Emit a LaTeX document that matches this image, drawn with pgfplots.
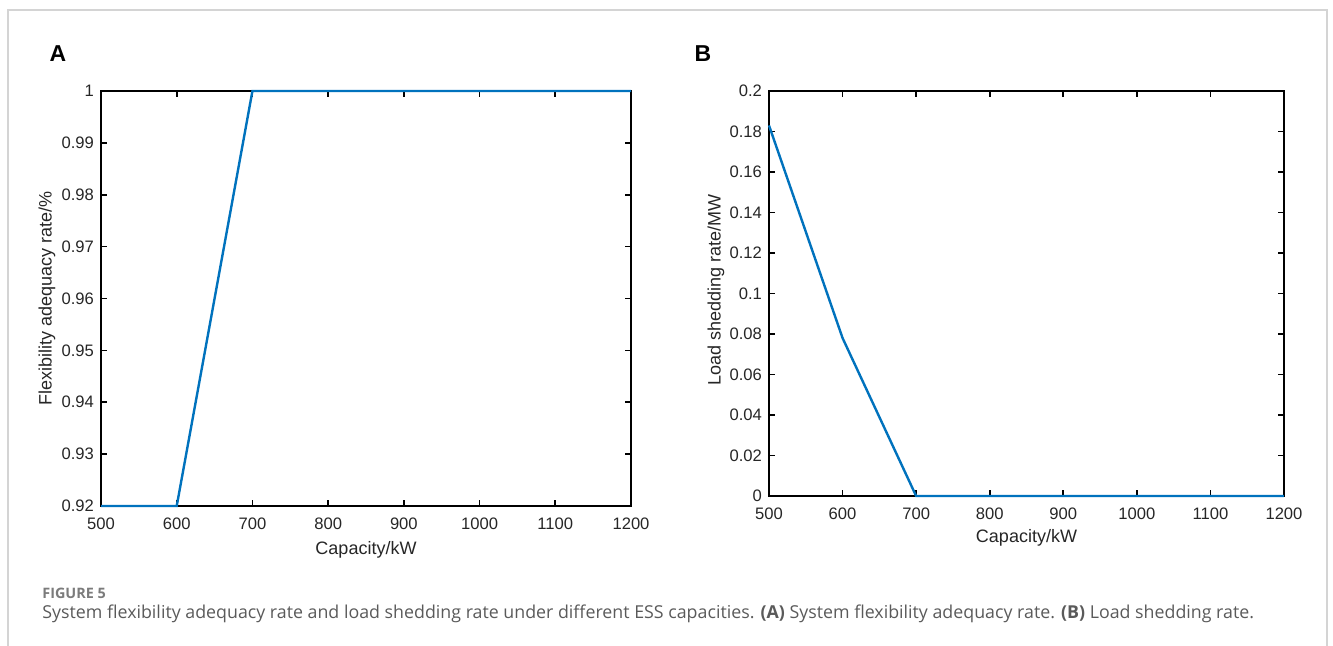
\documentclass[border=0pt]{standalone}
\usepackage{pgfplots}
\pgfplotsset{compat=1.18}
\usepackage{fontspec}
\setmainfont{Liberation Sans}
\newfontfamily\capfont{Open Sans}
\definecolor{mblue}{HTML}{0072BD}
\definecolor{capgray}{HTML}{5A5A5A}
\definecolor{framegray}{HTML}{D4D4D4}

\pgfplotstableread{
cap rate
500 0.92
600 0.92
700 1
800 1
900 1
1000 1
1100 1
1200 1
}\adequacy

\pgfplotstableread{
cap shed
500 0.183
600 0.078
700 0
800 0
900 0
1000 0
1100 0
1200 0
}\shedding

\pgfplotsset{
  matlab/.style={
    scale only axis,
    anchor=south west,
    xmin=500, xmax=1200,
    xtick={500,600,...,1200},
    axis line style={black, line width=1pt},
    tick style={black, line width=0.8pt},
    major tick length=3pt,
    tick align=inside,
    tick pos=both,
    tick label style={font=\fontsize{8.3}{10}\selectfont, text=black!85},
    xticklabel style={yshift=-2.5pt, /pgf/number format/1000 sep={}},
    label style={font=\fontsize{9}{11}\selectfont, text=black!85},
    /pgf/number format/assume math mode=true,
    yticklabel style={/pgf/number format/fixed, /pgf/number format/precision=2},
    scaled y ticks=false,
    clip=false,
  },
}

\begin{document}
\begin{tikzpicture}
\useasboundingbox (0,0) rectangle (666.5pt,-323pt);
\draw[framegray, line width=0.6pt] (4pt,-323pt) -- (4pt,-5pt) -- (663.5pt,-5pt) -- (663.5pt,-323pt);

\node[font=\bfseries\fontsize{11.5}{13}\selectfont, anchor=center] at (29pt,-27pt) {A};
\node[font=\bfseries\fontsize{11.5}{13}\selectfont, anchor=center] at (351.5pt,-27pt) {B};

\begin{axis}[matlab,
  at={(50.5pt,-253pt)}, width=265pt, height=207.5pt,
  ymin=0.92, ymax=1,
  ytick={0.92,0.93,...,1.001},
  xlabel={Capacity/kW},
  ylabel={Flexibility adequacy rate/\%},
  xlabel style={at={(axis description cs:0.5,-0.106)}, anchor=center},
  ylabel style={at={(axis description cs:-0.102,0.5)}, anchor=center},
]
\addplot[mblue, line width=1.2pt] table[x=cap, y=rate] {\adequacy};
\end{axis}

\begin{axis}[matlab,
  at={(384.5pt,-248pt)}, width=257.5pt, height=202.5pt,
  ymin=0, ymax=0.2,
  ytick={0,0.02,...,0.201},
  xlabel={Capacity/kW},
  ylabel={Load shedding rate/MW},
  xlabel style={at={(axis description cs:0.5,-0.104)}, anchor=center},
  ylabel style={at={(axis description cs:-0.103,0.509)}, anchor=center},
]
\addplot[mblue, line width=1.2pt] table[x=cap, y=shed] {\shedding};
\end{axis}

\node[anchor=base west, font=\capfont\fontsize{7.2}{8}\selectfont\bfseries, text=capgray!80, inner sep=0pt] at (21pt,-299pt) {FIGURE 5};
\node[anchor=base west, font=\capfont\fontsize{8.9}{10}\selectfont, text=capgray, inner sep=0pt] at (21pt,-309pt)
  {System flexibility adequacy rate and load shedding rate under different ESS capacities. \textbf{(A)} System flexibility adequacy rate. \textbf{(B)} Load shedding rate.};
\end{tikzpicture}
\end{document}
